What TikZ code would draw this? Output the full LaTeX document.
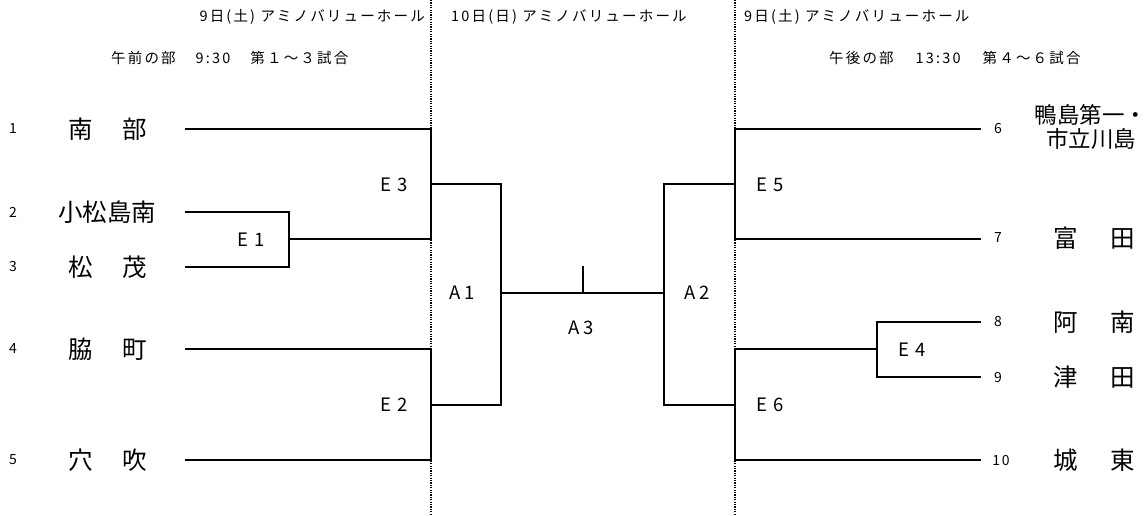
\documentclass[tikz,border=0pt]{standalone}
\usepackage{fontspec}
\setmainfont{Noto Sans CJK JP}
\newfontfamily\jp{Noto Sans CJK JP}
\newfontfamily\jphead[LetterSpace=15]{Noto Sans CJK JP}
\newfontfamily\jpnum[LetterSpace=12]{Noto Sans CJK JP}
\begin{document}
\begin{tikzpicture}[x=1pt,y=-1pt,
  br/.style={line width=1.8pt, line join=miter, line cap=butt},
  sep/.style={line width=1.6pt, dash pattern=on 1.2pt off 1.2pt},
  team/.style={inner sep=0pt, font=\jp\fontsize{24.5}{26}\selectfont},
  seed/.style={inner sep=0pt, font=\jpnum\fontsize{14}{15}\selectfont},
  game/.style={inner sep=0pt, font=\jp\fontsize{18.5}{20}\selectfont},
  head/.style={inner sep=0pt, font=\jphead\fontsize{14.5}{16}\selectfont}]
\useasboundingbox (0,0) rectangle (1148,515);
% separators
\coordinate (D1t) at (431,0); \coordinate (D1b) at (431,515);
\coordinate (D2t) at (735,0); \coordinate (D2b) at (735,515);
\draw[sep] (D1t) -- (D1b);
\draw[sep] (D2t) -- (D2b);
% bracket coordinates
\coordinate (L1a) at (185,129); \coordinate (L1b) at (431,129);
\coordinate (L2a) at (185,212); \coordinate (E1t) at (289,212);
\coordinate (L3a) at (185,267); \coordinate (E1b) at (289,267);
\coordinate (E1m) at (289,239); \coordinate (E3b) at (431,239);
\coordinate (E3m) at (431,184); \coordinate (A1t) at (501,184);
\coordinate (L4a) at (185,349); \coordinate (E2t) at (431,349);
\coordinate (L5a) at (185,460); \coordinate (E2b) at (431,460);
\coordinate (E2m) at (431,405); \coordinate (A1b) at (501,405);
\coordinate (A1m) at (501,293); \coordinate (A2m) at (664,293);
\coordinate (A3top) at (583,266); \coordinate (A3m) at (583,293);
\coordinate (A2t) at (664,184); \coordinate (E5m) at (735,184);
\coordinate (A2b) at (664,405); \coordinate (E6m) at (735,405);
\coordinate (R6a) at (981,129); \coordinate (E5t) at (735,129);
\coordinate (R7a) at (981,239); \coordinate (E5b) at (735,239);
\coordinate (E6t) at (735,349); \coordinate (E4m) at (877,349);
\coordinate (R8a) at (981,322); \coordinate (E4t) at (877,322);
\coordinate (R9a) at (981,377); \coordinate (E4b) at (877,377);
\coordinate (R10a) at (981,460); \coordinate (E6b) at (735,460);
% brackets
\draw[br] (L1a) -- (L1b) -- (E3b) -- (E1m);
\draw[br] (L2a) -- (E1t) -- (E1b) -- (L3a);
\draw[br] (E3m) -- (A1t) -- (A1b) -- (E2m);
\draw[br] (L4a) -- (E2t) -- (E2b) -- (L5a);
\draw[br] (A1m) -- (A2m);
\draw[br] (A3m) -- (A3top);
\draw[br] (E5m) -- (A2t) -- (A2b) -- (E6m);
\draw[br] (R6a) -- (E5t) -- (E5b) -- (R7a);
\draw[br] (R10a) -- (E6b) -- (E6t) -- (E4m);
\draw[br] (R8a) -- (E4t) -- (E4b) -- (R9a);
% headers
\node[head, anchor=east] (h1) at (425,17) {9日(土) アミノバリューホール};
\node[head, anchor=west] (h2) at (451,17) {10日(日) アミノバリューホール};
\node[head, anchor=west] (h3) at (744,17) {9日(土) アミノバリューホール};
\node[head, anchor=west] (h4) at (111,58) {午前の部\hspace{20pt}9:30\hspace{20pt}第１～３試合};
\node[head, anchor=west] (h5) at (829,58) {午後の部\hspace{22pt}13:30\hspace{22pt}第４～６試合};
% seeds left
\node[seed] (s1) at (13,129) {1};
\node[seed] (s2) at (13,212) {2};
\node[seed] (s3) at (13,267) {3};
\node[seed] (s4) at (13,349) {4};
\node[seed] (s5) at (13,460) {5};
% teams left
\node[team] (n1) at (108,129) {南\hspace{30pt}部};
\node[team] (n2) at (107,212) {小松島南};
\node[team] (n3) at (108,267) {松\hspace{30pt}茂};
\node[team] (n4) at (108,349) {脇\hspace{30pt}町};
\node[team] (n5) at (108,460) {穴\hspace{30pt}吹};
% seeds right
\node[seed] (s6) at (998,129) {6};
\node[seed] (s7) at (998,238) {7};
\node[seed] (s8) at (998,322) {8};
\node[seed] (s9) at (998,377) {9};
\node[seed] (s10) at (1001,460) {10};
% teams right
\node[inner sep=0pt, align=center, font=\jp\fontsize{22.5}{24}\selectfont] (n6) at (1091,127) {鴨島第一・\\市立川島};
\node[team] (n7) at (1094,238) {富\hspace{33pt}田};
\node[team] (n8) at (1094,322) {阿\hspace{33pt}南};
\node[team] (n9) at (1094,377) {津\hspace{33pt}田};
\node[team] (n10) at (1094,460) {城\hspace{33pt}東};
% game labels
\node[game] (g1) at (251,240) {E\hspace{6pt}1};
\node[game] (g3) at (394,185) {E\hspace{6pt}3};
\node[game] (g2) at (394,405) {E\hspace{6pt}2};
\node[game] (a1) at (462,293) {A\hspace{4pt}1};
\node[game] (a2) at (697,293) {A\hspace{4pt}2};
\node[game] (a3) at (581,328) {A\hspace{4pt}3};
\node[game] (g5) at (770,185) {E\hspace{6pt}5};
\node[game] (g6) at (770,405) {E\hspace{6pt}6};
\node[game] (g4) at (912,350) {E\hspace{6pt}4};
\end{tikzpicture}
\end{document}
